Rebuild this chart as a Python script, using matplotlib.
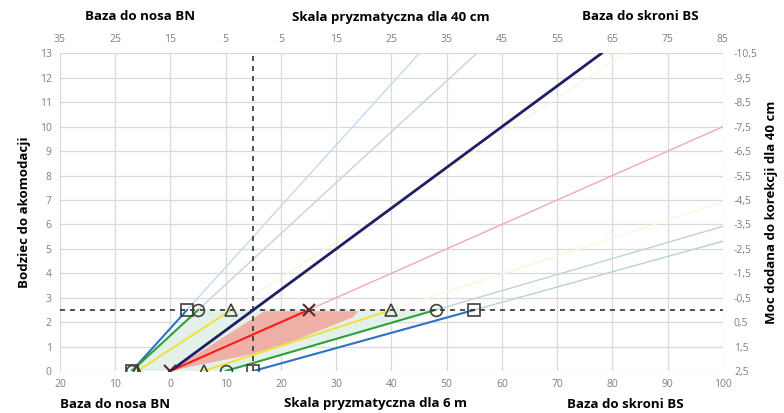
import matplotlib.pyplot as plt

plt.rcParams['font.family'] = ['Open Sans', 'DejaVu Sans']

# poziomy bodźca akomodacyjnego (dół i linia przerywana)
poziomy = [0, 2.5]

# punkty baza do nosa (BN) - skala 6 m
bn_niebieski = [-7, 3]
bn_zielony = [-7, 5]
bn_zolty = [-6, 11]

# punkty baza do skroni (BS) - skala 6 m
bs_niebieski = [15, 55]
bs_zielony = [10, 48]
bs_zolty = [6, 40]

# linia popytu (czerwona) i linia granatowa
czerwona_x = [0, 25]
granat_x = [0, 15]

# pas czerwony (zakres)
pas_x = [0, 17, 34, 33, 22, 15]
pas_y = [0, 2.45, 2.45, 2.2, 1.2, 0.7]

x_ticks = list(range(-20, 101, 10))
y_ticks = list(range(0, 14))

fig = plt.figure(figsize=(7.84, 4.13), dpi=100)
ax = fig.add_axes([0.0765, 0.1017, 0.8455, 0.7688])
ax.set_xlim(-20, 100)
ax.set_ylim(0, 13)

szary = '#7f7f7f'
ax.set_xticks(x_ticks)
ax.set_yticks(y_ticks)
ax.set_xticklabels([str(abs(v)) for v in x_ticks], color=szary, fontsize=7.5)
ax.set_yticklabels([str(v) for v in y_ticks], color=szary, fontsize=7.5)
ax.tick_params(length=0, pad=6)
ax.grid(True, color='#d9d9d9', linewidth=0.9)
ax.set_axisbelow(True)
for s in ax.spines.values():
    s.set_visible(False)

# wypełnienia
ax.fill([bn_zielony[0], bn_zielony[1], bs_zielony[1], bs_zielony[0]],
        [poziomy[0], poziomy[1], poziomy[1], poziomy[0]],
        color='#e3f1ea', zorder=1)
ax.fill(pas_x, pas_y, color='#f39a90', alpha=0.75, zorder=2, linewidth=0)

# blade przedłużenia
ax.axline((bn_niebieski[0], 0), (bn_niebieski[1], 2.5), color='#c5d9ec', lw=1, zorder=2)
ax.axline((bn_zielony[0], 0), (bn_zielony[1], 2.5), color='#c3d6cd', lw=1, zorder=2)
ax.axline((bn_zolty[0], 0), (bn_zolty[1], 2.5), color='#faf6e0', lw=1, zorder=2)
ax.axline((bs_niebieski[0], 0), (bs_niebieski[1], 2.5), color='#b9d0df', lw=1, zorder=2)
ax.axline((bs_zielony[0], 0), (bs_zielony[1], 2.5), color='#bcd6cb', lw=1, zorder=2)
ax.axline((bs_zolty[0], 0), (bs_zolty[1], 2.5), color='#faf6e0', lw=1, zorder=2)
ax.axline((czerwona_x[0], 0), (czerwona_x[1], 2.5), color='#f4a7b6', lw=1, zorder=2)

# linia granatowa
ax.axline((granat_x[0], 0), (granat_x[1], 2.5), color='#1f1f66', lw=2, zorder=4)

# linie główne
ax.plot(bn_niebieski, poziomy, color='#2f73c9', lw=1.5, zorder=3)
ax.plot(bn_zielony, poziomy, color='#2ea23a', lw=1.5, zorder=3)
ax.plot(bn_zolty, poziomy, color='#f0e040', lw=1.5, zorder=3)
ax.plot(bs_niebieski, poziomy, color='#2f73c9', lw=1.5, zorder=3)
ax.plot(bs_zielony, poziomy, color='#2ea23a', lw=1.5, zorder=3)
ax.plot(bs_zolty, poziomy, color='#f0e040', lw=1.5, zorder=3)
ax.plot(czerwona_x, poziomy, color='#ff1a1a', lw=1.5, zorder=3)

# linie przerywane
ax.axhline(2.5, color='#333333', lw=1.2, ls=(0, (3, 3)), zorder=3)
ax.axvline(15, color='#333333', lw=1.2, ls=(0, (3, 3)), zorder=3)

# znaczniki
mk = dict(mfc='none', mec='#404040', mew=1.2, ms=8.5, ls='none', zorder=5)
ax.plot(bn_niebieski + bs_niebieski, poziomy + poziomy, marker='s', **mk)
ax.plot(bn_zielony + bs_zielony, poziomy + poziomy, marker='o', **mk)
ax.plot(bn_zolty + bs_zolty, poziomy + poziomy, marker='^', **mk)
ax.plot(czerwona_x, poziomy, marker='x', mfc='none', mec='#5a2a2a', mew=1.5, ms=9,
        ls='none', zorder=5)

# oś górna - skala dla 40 cm
ax_top = ax.twiny()
ax_top.set_xlim(ax.get_xlim())
ax_top.set_xticks(x_ticks)
ax_top.set_xticklabels([str(abs(v - 15)) for v in x_ticks], color=szary, fontsize=7.5)
ax_top.tick_params(length=0, pad=6)
for s in ax_top.spines.values():
    s.set_visible(False)

# oś prawa - moc dodana
ax_r = ax.twinx()
ax_r.set_ylim(ax.get_ylim())
ax_r.set_yticks(y_ticks)
ax_r.set_yticklabels([('%.1f' % (2.5 - v)).replace('.', ',') for v in y_ticks],
                     color=szary, fontsize=7.5)
ax_r.tick_params(length=0, pad=8)
for s in ax_r.spines.values():
    s.set_visible(False)

ax.set_ylabel('Bodziec do akomodacji', fontsize=9.5, fontweight='bold', labelpad=6)
ax_r.set_ylabel('Moc dodana do korekcji dla 40 cm', fontsize=9.5, fontweight='bold',
                labelpad=5)

tx = dict(fontsize=9.5, fontweight='bold', ha='center', va='center')
fig.text(140 / 784, 1 - 17 / 413, 'Baza do nosa BN', **tx)
fig.text(391 / 784, 1 - 17 / 413, 'Skala pryzmatyczna dla 40 cm', **tx)
fig.text(640 / 784, 1 - 17 / 413, 'Baza do skroni BS', **tx)
fig.text(115 / 784, 1 - 404 / 413, 'Baza do nosa BN', **tx)
fig.text(375 / 784, 1 - 404 / 413, 'Skala pryzmatyczna dla 6 m', **tx)
fig.text(625 / 784, 1 - 404 / 413, 'Baza do skroni BS', **tx)

fig.savefig('out.png', dpi=100)
